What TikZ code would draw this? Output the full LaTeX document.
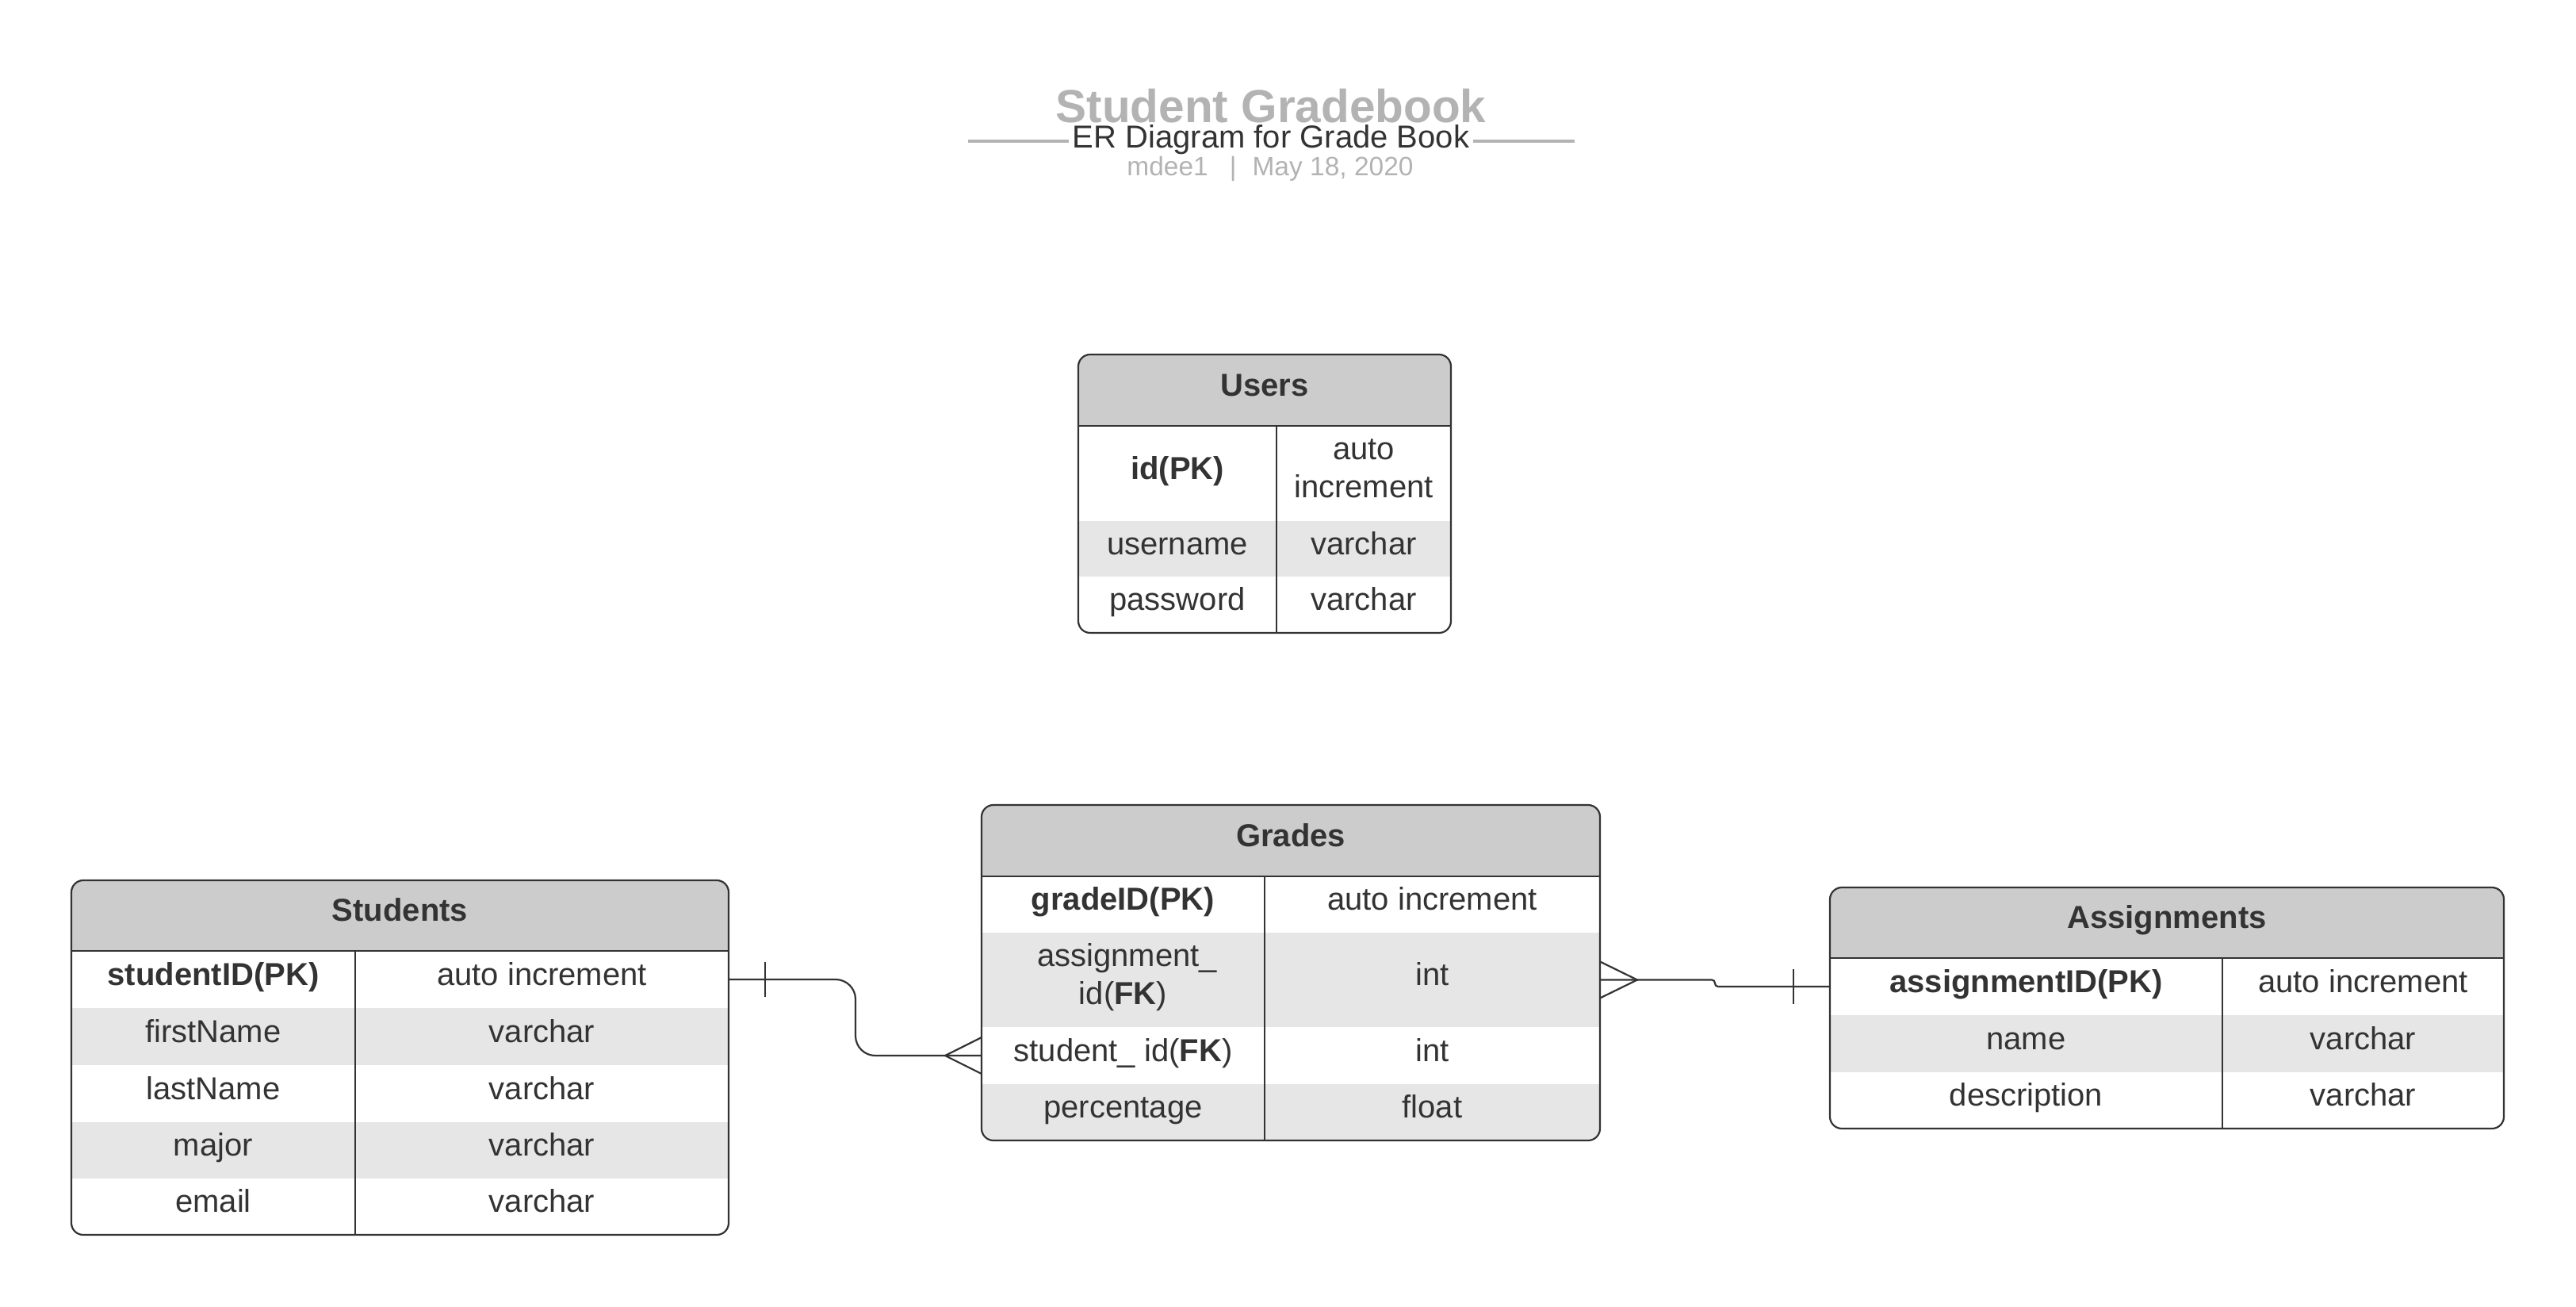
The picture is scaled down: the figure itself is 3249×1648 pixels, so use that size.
\documentclass[tikz,border=0pt]{standalone}
\usepackage{fontspec}
\setmainfont{Liberation Sans}
\usetikzlibrary{calc}
\definecolor{ink}{HTML}{333333}
\definecolor{hdr}{HTML}{CCCCCC}
\definecolor{alt}{HTML}{E6E6E6}
\definecolor{ttl}{HTML}{B3B3B3}
% single-line cell: name, x1, y1, x2, y2, style, text
\newcommand\tcell[7]{\node[cellbox,single,#6,minimum width={(#4-#2)*1pt},minimum height={(#5-#3)*1pt}] (#1) at ({(#2+#4)/2},{(#3+#5)/2}) {#7};}
% multi-line cell: name, x1, y1, x2, y2, style, text shift, text
\newcommand\mcell[8]{\node[cellbox,#6,minimum width={(#4-#2)*1pt},minimum height={(#5-#3)*1pt}] (#1) at ({(#2+#4)/2},{(#3+#5)/2}) {};
\node[cellbox,align=center,yshift=#7] (#1-t) at (#1.center) {#8};}
\begin{document}
\begin{tikzpicture}[x=1pt,y=-1pt,
  cellbox/.style={rectangle, inner sep=0pt, outer sep=0pt, text=ink, font=\fontsize{40}{48}\selectfont},
  single/.style={text height=26pt, text depth=12pt},
  hd/.style={fill=hdr, font=\fontsize{40}{48}\selectfont\bfseries},
  wh/.style={fill=white},
  gy/.style={fill=alt},
  box/.style={draw=ink, line width=2.2pt, rounded corners=15pt},
  rule/.style={draw=ink, line width=2pt},
  conn/.style={draw=ink, line width=2.2pt},
  ttlline/.style={draw=ttl, line width=3.5pt}]
\useasboundingbox[fill=white] (0,0) rectangle (3249,1648);

% ---------- title block ----------
\node[anchor=base, text=ttl, font=\fontsize{58.5}{62}\selectfont\bfseries] (title) at (1603,155) {Student Gradebook};
\draw[ttlline] (1221,178) -- (1348,178);
\draw[ttlline] (1858,178) -- (1986,178);
\node[anchor=base, text=ink, font=\fontsize{40}{48}\selectfont] (subtitle) at (1603,187) {ER Diagram for Grade Book};
\node[anchor=base, text=ttl, font=\fontsize{33.5}{40}\selectfont] (meta) at (1602,222) {mdee1\hspace{27pt}|\hspace{20pt}May 18, 2020};

% ---------- Users ----------
\begin{scope}
\clip[rounded corners=15pt] (1360,447) rectangle (1830,798);
\tcell{u-h}{1360}{447}{1830}{537}{hd}{Users}
\tcell{u-k1}{1360}{537}{1610}{657}{wh}{\textbf{id(PK)}}
\mcell{u-v1}{1610}{537}{1830}{657}{wh}{6pt}{auto\\increment}
\tcell{u-k2}{1360}{657}{1610}{727}{gy}{username}
\tcell{u-v2}{1610}{657}{1830}{727}{gy}{varchar}
\tcell{u-k3}{1360}{727}{1610}{798}{wh}{password}
\tcell{u-v3}{1610}{727}{1830}{798}{wh}{varchar}
\end{scope}
\draw[box] (1360,447) rectangle (1830,798);
\draw[rule] (u-h.south west) -- (u-h.south east);
\draw[rule] (u-k1.north east) -- (u-k3.south east);

% ---------- Students ----------
\begin{scope}
\clip[rounded corners=15pt] (90,1110) rectangle (919,1557);
\tcell{s-h}{90}{1110}{919}{1199}{hd}{Students}
\tcell{s-k1}{90}{1199}{448}{1271}{wh}{\textbf{studentID(PK)}}
\tcell{s-v1}{448}{1199}{919}{1271}{wh}{auto increment}
\tcell{s-k2}{90}{1271}{448}{1343}{gy}{firstName}
\tcell{s-v2}{448}{1271}{919}{1343}{gy}{varchar}
\tcell{s-k3}{90}{1343}{448}{1415}{wh}{lastName}
\tcell{s-v3}{448}{1343}{919}{1415}{wh}{varchar}
\tcell{s-k4}{90}{1415}{448}{1486}{gy}{major}
\tcell{s-v4}{448}{1415}{919}{1486}{gy}{varchar}
\tcell{s-k5}{90}{1486}{448}{1557}{wh}{email}
\tcell{s-v5}{448}{1486}{919}{1557}{wh}{varchar}
\end{scope}
\draw[box] (90,1110) rectangle (919,1557);
\draw[rule] (s-h.south west) -- (s-h.south east);
\draw[rule] (s-k1.north east) -- (s-k5.south east);

% ---------- Grades ----------
\begin{scope}
\clip[rounded corners=15pt] (1238,1015) rectangle (2018,1438);
\tcell{g-h}{1238}{1015}{2018}{1105}{hd}{Grades}
\tcell{g-k1}{1238}{1105}{1595}{1176}{wh}{\textbf{gradeID(PK)}}
\tcell{g-v1}{1595}{1105}{2018}{1176}{wh}{auto increment}
\mcell{g-k2}{1238}{1176}{1595}{1295}{gy}{3pt}{\hspace{10pt}assignment\_\\id(\textbf{FK})}
\tcell{g-v2}{1595}{1176}{2018}{1295}{gy}{int}
\tcell{g-k3}{1238}{1295}{1595}{1367}{wh}{student\_ id(\textbf{FK})}
\tcell{g-v3}{1595}{1295}{2018}{1367}{wh}{int}
\tcell{g-k4}{1238}{1367}{1595}{1438}{gy}{percentage}
\tcell{g-v4}{1595}{1367}{2018}{1438}{gy}{float}
\end{scope}
\draw[box] (1238,1015) rectangle (2018,1438);
\draw[rule] (g-h.south west) -- (g-h.south east);
\draw[rule] (g-k1.north east) -- (g-k4.south east);

% ---------- Assignments ----------
\begin{scope}
\clip[rounded corners=15pt] (2308,1119) rectangle (3158,1423);
\tcell{a-h}{2308}{1119}{3158}{1208}{hd}{Assignments}
\tcell{a-k1}{2308}{1208}{2803}{1280}{wh}{\textbf{assignmentID(PK)}}
\tcell{a-v1}{2803}{1208}{3158}{1280}{wh}{auto increment}
\tcell{a-k2}{2308}{1280}{2803}{1352}{gy}{name}
\tcell{a-v2}{2803}{1280}{3158}{1352}{gy}{varchar}
\tcell{a-k3}{2308}{1352}{2803}{1423}{wh}{description}
\tcell{a-v3}{2803}{1352}{3158}{1423}{wh}{varchar}
\end{scope}
\draw[box] (2308,1119) rectangle (3158,1423);
\draw[rule] (a-h.south west) -- (a-h.south east);
\draw[rule] (a-k1.north east) -- (a-k3.south east);

% ---------- Students -> Grades ----------
\draw[conn, rounded corners=25pt] (s-v1.east) -- ++(160,0) |- (g-k3.west);
\draw[conn] ($(s-v1.east)+(46,-22)$) -- ($(s-v1.east)+(46,22)$);
\draw[conn] ($(g-k3.west)+(0,-23)$) -- ($(g-k3.west)+(-46,0)$) -- ($(g-k3.west)+(0,23)$);

% ---------- Grades -> Assignments ----------
\draw[conn, rounded corners=4pt] (g-v2.east) -- ++(145,0) |- (a-k1.west);
\draw[conn] ($(g-v2.east)+(0,-23)$) -- ($(g-v2.east)+(47,0)$) -- ($(g-v2.east)+(0,23)$);
\draw[conn] ($(a-k1.west)+(-46,-22)$) -- ($(a-k1.west)+(-46,22)$);
\end{tikzpicture}
\end{document}
